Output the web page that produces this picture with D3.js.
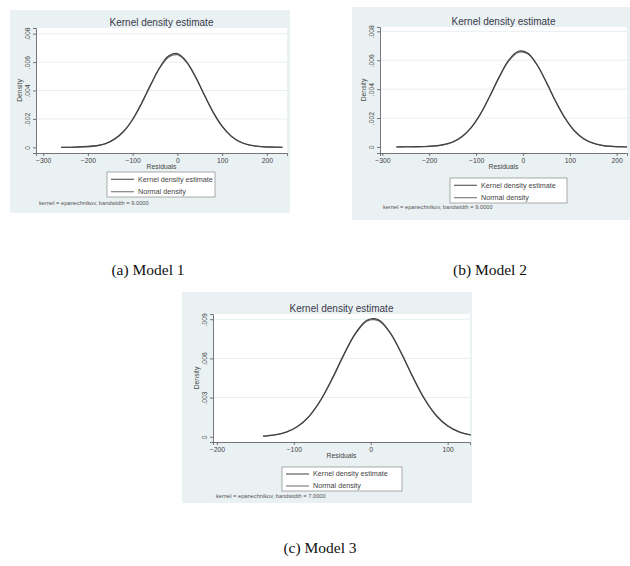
<!DOCTYPE html>
<html>
<head>
<meta charset="utf-8">
<script src="https://cdn.jsdelivr.net/npm/d3@7"></script>
<style>
  html, body { margin: 0; padding: 0; background: #ffffff; }
  svg { display: block; }
</style>
</head>
<body>
<svg id="chart" width="630" height="566"></svg>
<script>
// ---------------- DATA ----------------
const chartTitle = "Kernel density estimate";
const xAxisTitle = "Residuals";
const yAxisTitle = "Density";
const legendLabels = ["Kernel density estimate", "Normal density"];
const captions = ["(a) Model 1", "(b) Model 2", "(c) Model 3"];
const notes = [
  "kernel = epanechnikov, bandwidth = 9.0000",
  "kernel = epanechnikov, bandwidth = 9.0000",
  "kernel = epanechnikov, bandwidth = 7.0000"
];

// Model 1
const xA = [-260,-240,-220,-200,-180,-160,-140,-120,-100,-80,-60,-40,-20,0,20,40,60,80,100,120,140,160,180,200,220,235];
const kernelA = [0.00000,0.00001,0.00003,0.00007,0.00012,0.00027,0.00060,0.00114,0.00198,0.00312,0.00440,0.00560,0.00643,0.00660,0.00606,0.00500,0.00370,0.00246,0.00147,0.00079,0.00037,0.00016,0.00007,0.00003,0.00001,0.00000];
const normalA = [0.00000,0.00000,0.00001,0.00004,0.00011,0.00026,0.00057,0.00111,0.00194,0.00307,0.00436,0.00555,0.00635,0.00652,0.00601,0.00498,0.00371,0.00248,0.00149,0.00080,0.00039,0.00017,0.00007,0.00002,0.00001,0.00000];
const xTicksA = [-300,-200,-100,0,100,200];
const yTicksA = [0,0.002,0.004,0.006,0.008];

// Model 2
const xB = [-270,-250,-230,-210,-190,-170,-150,-130,-110,-90,-70,-50,-30,-10,10,30,50,70,90,110,130,150,170,190,210,222];
const kernelB = [0.00000,0.00001,0.00002,0.00003,0.00007,0.00016,0.00034,0.00072,0.00136,0.00233,0.00358,0.00490,0.00603,0.00662,0.00650,0.00570,0.00447,0.00314,0.00197,0.00110,0.00055,0.00025,0.00010,0.00004,0.00001,0.00000];
const normalB = [0.00000,0.00000,0.00001,0.00002,0.00005,0.00014,0.00033,0.00070,0.00135,0.00231,0.00354,0.00486,0.00597,0.00655,0.00645,0.00567,0.00447,0.00315,0.00199,0.00112,0.00057,0.00026,0.00010,0.00004,0.00001,0.00000];
const xTicksB = [-300,-200,-100,0,100,200];
const yTicksB = [0,0.002,0.004,0.006,0.008];

// Model 3
const xC = [-140,-125,-110,-95,-80,-65,-50,-35,-20,-5,10,25,40,55,70,85,100,115,130];
const kernelC = [0.00004,0.00013,0.00034,0.00078,0.00157,0.00282,0.00447,0.00630,0.00792,0.00893,0.00896,0.00800,0.00638,0.00453,0.00287,0.00162,0.00082,0.00036,0.00014];
const normalC = [0.00005,0.00014,0.00036,0.00080,0.00158,0.00280,0.00443,0.00625,0.00787,0.00886,0.00889,0.00796,0.00637,0.00455,0.00290,0.00165,0.00084,0.00038,0.00015];
const xTicksC = [-200,-100,0,100];
const yTicksC = [0,0.003,0.006,0.009];

// ---------------- LAYOUT ----------------
const panels = [
  { bg:[10,10,280,203], plot:[36,28,251,125], xd:[-316,245], yd:[-0.0004,0.0084],
    xs:xA, k:kernelA, n:normalA, xt:xTicksA, yt:yTicksA, legend:[107,172,108,25], noteY:205, capX:148, capY:275 },
  { bg:[352,7,278,213], plot:[380,27,247,126], xd:[-305,222], yd:[-0.00042,0.0083],
    xs:xB, k:kernelB, n:normalB, xt:xTicksB, yt:yTicksB, legend:[450,178,117,25], noteY:209, capX:490, capY:275 },
  { bg:[182,292,290,211], plot:[213,314,257,128], xd:[-205,129], yd:[-0.0004,0.0094],
    xs:xC, k:kernelC, n:normalC, xt:xTicksC, yt:yTicksC, legend:[282,467,120,24], noteY:498, capX:320, capY:553 }
];

const svg = d3.select("#chart");
const bgColor = "#eaf1f3";
const fontSans = "Arial, 'Liberation Sans', sans-serif";

function fmtY(v) {
  if (v === 0) return "0";
  return d3.format(".3f")(v).replace(/^0/, "");
}

panels.forEach((p, i) => {
  const g = svg.append("g");
  const [bx, by, bw, bh] = p.bg;
  const [px, py, pw, ph] = p.plot;

  g.append("rect").attr("x", bx).attr("y", by).attr("width", bw).attr("height", bh)
    .attr("fill", bgColor);
  g.append("rect").attr("x", px).attr("y", py).attr("width", pw).attr("height", ph)
    .attr("fill", "#ffffff");

  const x = d3.scaleLinear().domain(p.xd).range([px, px + pw]);
  const y = d3.scaleLinear().domain(p.yd).range([py + ph, py]);

  // gridlines
  g.append("g").selectAll("line").data(p.yt.slice(1)).join("line")
    .attr("x1", px).attr("x2", px + pw)
    .attr("y1", d => y(d)).attr("y2", d => y(d))
    .attr("stroke", "#e2eaec").attr("stroke-width", 0.8);

  // axes
  const xAxis = d3.axisBottom(x).tickValues(p.xt).tickSize(3).tickPadding(2)
    .tickFormat(d3.format("d"));
  const gx = g.append("g").attr("transform", `translate(0,${py + ph})`).call(xAxis);
  gx.select(".domain").attr("stroke", "#555").attr("stroke-width", 0.8);
  gx.selectAll(".tick line").attr("stroke", "#555").attr("stroke-width", 0.8);
  gx.selectAll("text").attr("font-family", fontSans).attr("font-size", 6.8).attr("fill", "#444");

  const yAxis = d3.axisLeft(y).tickValues(p.yt).tickSize(3).tickPadding(2).tickFormat(fmtY);
  const gy = g.append("g").attr("transform", `translate(${px},0)`).call(yAxis);
  gy.select(".domain").attr("stroke", "#555").attr("stroke-width", 0.8);
  gy.selectAll(".tick line").attr("stroke", "#555").attr("stroke-width", 0.8);
  gy.selectAll("text").attr("font-family", fontSans).attr("font-size", 6.8).attr("fill", "#444")
    .attr("text-anchor", "middle").attr("transform", "rotate(-90)")
    .attr("x", 0).attr("dy", 0).attr("y", -6);

  // titles
  g.append("text").attr("x", px + pw / 2).attr("y", py - 2.5).attr("text-anchor", "middle")
    .attr("font-family", fontSans).attr("font-size", 10).attr("fill", "#3a3a4a").text(chartTitle);
  g.append("text").attr("x", px + pw / 2).attr("y", py + ph + 16).attr("text-anchor", "middle")
    .attr("font-family", fontSans).attr("font-size", 6.8).attr("fill", "#444").text(xAxisTitle);
  g.append("text").attr("transform", `translate(${px - 14},${py + ph / 2}) rotate(-90)`)
    .attr("text-anchor", "middle").attr("font-family", fontSans).attr("font-size", 6.8)
    .attr("fill", "#444").text(yAxisTitle);

  // lines
  const lineK = d3.line().x((d, j) => x(p.xs[j])).y(d => y(d)).curve(d3.curveCatmullRom.alpha(0.5));
  g.append("path").datum(p.n).attr("d", lineK).attr("fill", "none")
    .attr("stroke", "#6a6a6a").attr("stroke-width", 1.3);
  g.append("path").datum(p.k).attr("d", lineK).attr("fill", "none")
    .attr("stroke", "#404040").attr("stroke-width", 1.1);

  // legend
  const [lx, ly, lw, lh] = p.legend;
  g.append("rect").attr("x", lx).attr("y", ly).attr("width", lw).attr("height", lh)
    .attr("fill", "#ffffff").attr("stroke", "#888").attr("stroke-width", 0.7);
  legendLabels.forEach((lab, j) => {
    const yy = ly + lh * (j + 0.5) / 2 + 1;
    g.append("line").attr("x1", lx + 4).attr("x2", lx + 27).attr("y1", yy).attr("y2", yy)
      .attr("stroke", j === 0 ? "#404040" : "#6a6a6a").attr("stroke-width", 1);
    g.append("text").attr("x", lx + 31).attr("y", yy + 2.3).attr("font-family", fontSans)
      .attr("font-size", 7.2).attr("fill", "#444").text(lab);
  });

  // note
  g.append("text").attr("x", px + 3).attr("y", p.noteY).attr("font-family", fontSans)
    .attr("font-size", 5.7).attr("fill", "#555").text(notes[i]);

  // caption
  svg.append("text").attr("x", p.capX).attr("y", p.capY).attr("text-anchor", "middle")
    .attr("font-family", "'Liberation Serif', 'Times New Roman', serif")
    .attr("font-size", 15.5).attr("fill", "#111").text(captions[i]);
});
</script>
</body>
</html>
